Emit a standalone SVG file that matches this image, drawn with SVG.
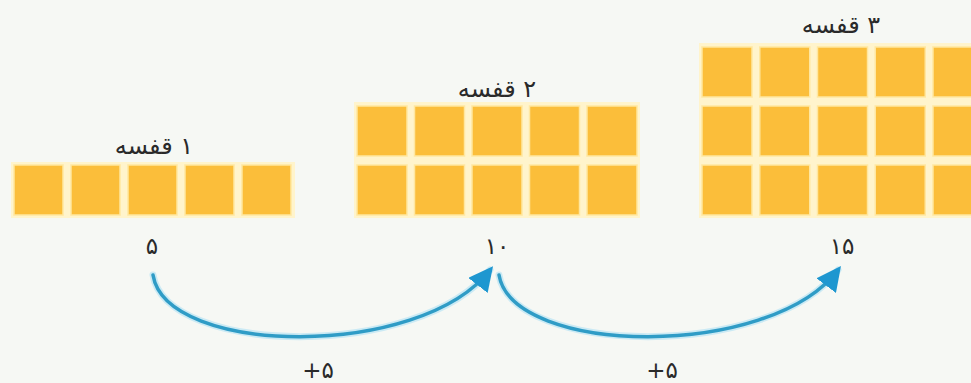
<svg xmlns="http://www.w3.org/2000/svg" width="971" height="383" viewBox="0 0 971 383">
  <style>
    .bg { fill: #F6F8F4; }
    .pad { fill: #FFF4CC; }
    .sq { fill: #FBBE3A; stroke: #FFE7A0; stroke-width: 1.5; }
    .lbl { font-family: "DejaVu Sans", sans-serif; font-size: 24px; fill: #2a2a2a; text-anchor: middle; direction: rtl; }
    .num { font-family: "DejaVu Sans", sans-serif; font-size: 23px; fill: #2a2a2a; text-anchor: middle; }
    .halo { fill: none; stroke: #CBEAF4; stroke-width: 7; stroke-linecap: round; }
    .arc { fill: none; stroke: #2F9CC6; stroke-width: 3.5; stroke-linecap: round; }
  </style>
  <defs>
    <marker id="head" viewBox="0 0 10 10" refX="8" refY="5" markerWidth="7" markerHeight="7" markerUnits="strokeWidth" orient="auto">
      <path d="M0,0 L10,5 L0,10 Z" fill="#1E97D0"/>
    </marker>
  </defs>
  <rect class="bg" x="0" y="0" width="971" height="383"/>

  <g id="shelf1">
    <text class="lbl" x="154" y="154">۱ قفسه</text>
    <rect class="pad" x="11" y="162" width="284" height="56"/>
    <rect class="sq" x="14" y="165" width="49" height="50"/>
    <rect class="sq" x="71" y="165" width="49" height="50"/>
    <rect class="sq" x="128" y="165" width="49" height="50"/>
    <rect class="sq" x="185" y="165" width="49" height="50"/>
    <rect class="sq" x="242" y="165" width="49" height="50"/>
    <text class="num" x="152" y="254">۵</text>
  </g>

  <g id="shelf2">
    <text class="lbl" x="497" y="97">۲ قفسه</text>
    <rect class="pad" x="354" y="102" width="286" height="116"/>
    <rect class="sq" x="357" y="106" width="50" height="50"/>
    <rect class="sq" x="414.5" y="106" width="50" height="50"/>
    <rect class="sq" x="472" y="106" width="50" height="50"/>
    <rect class="sq" x="529.5" y="106" width="50" height="50"/>
    <rect class="sq" x="587" y="106" width="50" height="50"/>
    <rect class="sq" x="357" y="165" width="50" height="50"/>
    <rect class="sq" x="414.5" y="165" width="50" height="50"/>
    <rect class="sq" x="472" y="165" width="50" height="50"/>
    <rect class="sq" x="529.5" y="165" width="50" height="50"/>
    <rect class="sq" x="587" y="165" width="50" height="50"/>
    <text class="num" x="497" y="254">۱۰</text>
  </g>

  <g id="shelf3">
    <text class="lbl" x="841" y="33">۳ قفسه</text>
    <rect class="pad" x="699" y="43" width="280" height="175"/>
    <rect class="sq" x="702" y="47" width="50" height="50"/>
    <rect class="sq" x="759.75" y="47" width="50" height="50"/>
    <rect class="sq" x="817.5" y="47" width="50" height="50"/>
    <rect class="sq" x="875.25" y="47" width="50" height="50"/>
    <rect class="sq" x="933" y="47" width="50" height="50"/>
    <rect class="sq" x="702" y="106" width="50" height="50"/>
    <rect class="sq" x="759.75" y="106" width="50" height="50"/>
    <rect class="sq" x="817.5" y="106" width="50" height="50"/>
    <rect class="sq" x="875.25" y="106" width="50" height="50"/>
    <rect class="sq" x="933" y="106" width="50" height="50"/>
    <rect class="sq" x="702" y="165" width="50" height="50"/>
    <rect class="sq" x="759.75" y="165" width="50" height="50"/>
    <rect class="sq" x="817.5" y="165" width="50" height="50"/>
    <rect class="sq" x="875.25" y="165" width="50" height="50"/>
    <rect class="sq" x="933" y="165" width="50" height="50"/>
    <text class="num" x="842" y="254">۱۵</text>
  </g>

  <g id="connectors">
    <path class="halo" d="M153,275 C166,356 420,360 490,270"/>
    <path class="arc" d="M153,275 C166,356 420,360 490,270" marker-end="url(#head)"/>
    <path class="halo" d="M499,275 C513,356 770,360 838,270"/>
    <path class="arc" d="M499,275 C513,356 770,360 838,270" marker-end="url(#head)"/>
    <text class="num" x="318" y="378" font-size="20">+۵</text>
    <text class="num" x="662" y="378" font-size="20">+۵</text>
  </g>
</svg>
